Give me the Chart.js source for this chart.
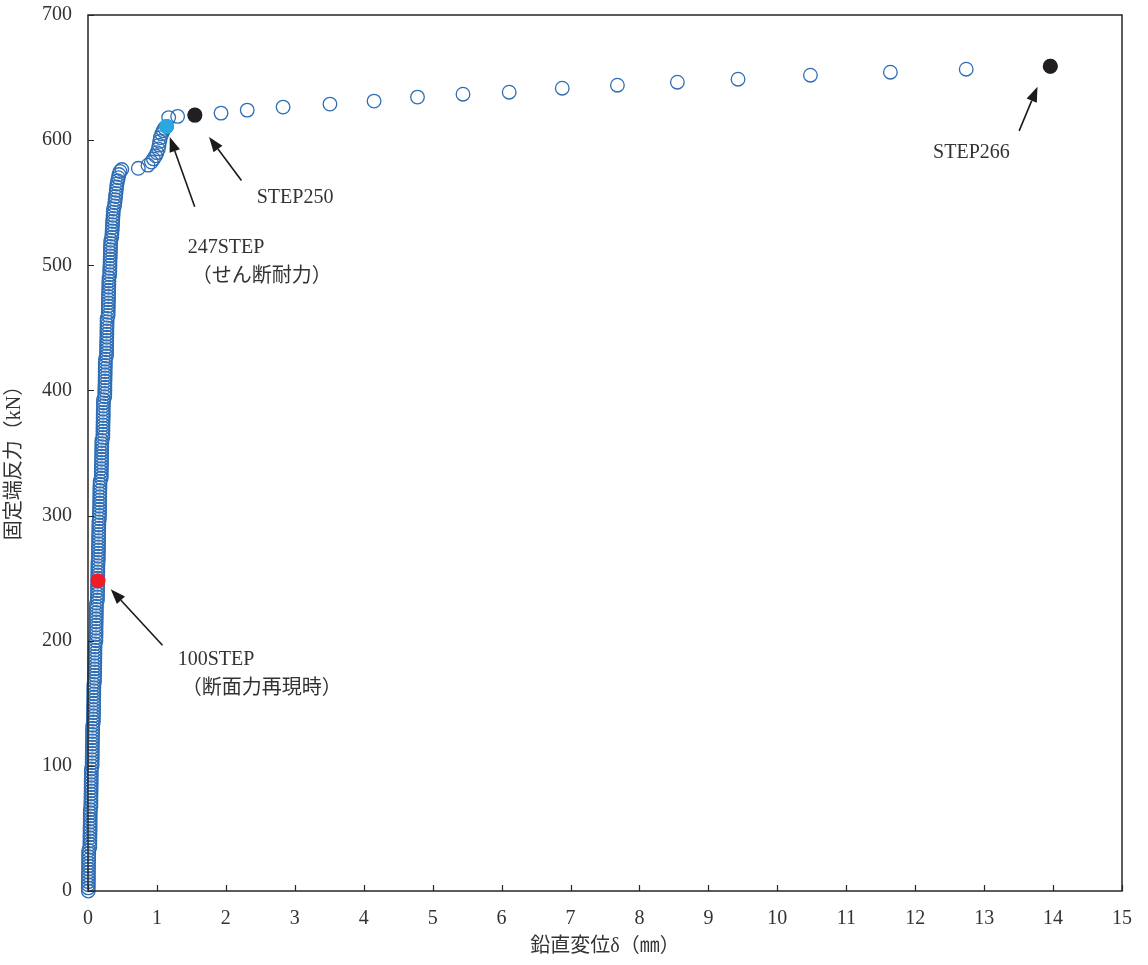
<!DOCTYPE html>
<html>
<head>
<meta charset="utf-8">
<script src="https://cdn.jsdelivr.net/npm/chart.js@4/dist/chart.umd.min.js"></script>
<style>
  html, body { margin: 0; padding: 0; background: #ffffff; }
  #wrap { width: 1148px; height: 965px; }
</style>
</head>
<body>
<div id="wrap"><canvas id="c" width="1148" height="965"></canvas></div>
<script>
// ---- Data ----
// Vertical displacement δ (mm) for every load step
const dispMm = [
  0.004,0.004,0.005,0.005,0.006,0.006,0.007,0.007,0.008,0.008,0.009,0.009,0.010,0.010,
  0.027,0.027,0.028,0.028,0.029,0.030,0.030,0.031,0.032,0.032,0.033,0.033,0.034,
  0.042,0.042,0.043,0.043,0.044,0.045,0.045,0.046,0.046,0.047,0.048,0.048,0.049,
  0.060,0.060,0.061,0.061,0.062,0.063,0.063,0.064,0.065,0.065,0.066,0.067,0.067,0.068,
  0.078,0.078,0.079,0.080,0.080,0.081,0.082,0.082,0.083,0.084,0.084,0.085,0.086,
  0.095,0.095,0.096,0.097,0.097,0.098,0.099,0.099,0.100,0.101,0.101,0.102,0.103,
  0.115,0.115,0.116,0.117,0.117,0.118,0.119,0.119,0.120,0.121,0.121,0.122,0.123,
  0.137,0.137,0.138,0.139,0.139,0.140,0.141,0.141,0.142,0.143,0.143,0.144,0.145,
  0.150,0.150,0.151,0.152,0.152,0.153,0.154,0.154,0.155,0.156,0.156,0.157,0.158,
  0.165,0.166,0.167,0.167,0.168,0.169,0.170,0.171,0.171,0.172,0.173,0.174,0.175,
  0.192,0.193,0.193,0.194,0.195,0.196,0.197,0.197,0.198,0.199,0.200,0.201,0.202,
  0.215,0.216,0.217,0.217,0.218,0.219,0.220,0.221,0.221,0.222,0.223,0.224,0.225,
  0.243,0.244,0.245,0.245,0.246,0.247,0.248,0.249,0.249,0.250,0.251,0.252,0.253,
  0.268,0.269,0.270,0.270,0.271,0.272,0.273,0.274,0.274,0.275,0.276,0.277,0.278,
  0.292,0.293,0.294,0.295,0.296,0.297,0.298,0.299,0.300,0.301,0.302,0.303,0.305,
  0.315,0.316,0.317,0.319,0.320,0.321,0.323,0.324,0.325,0.327,0.328,0.330,
  0.345,0.347,0.350,0.353,0.356,0.358,0.361,0.364,0.367,0.370,
  0.385,0.390,0.395,0.400,0.405,0.410,0.415,0.420,0.430,0.440,0.450,0.465,
  0.490,
  0.73,0.87,0.92,0.95,0.98,1.00,1.02,1.03,1.04,1.05,1.07,1.09,1.11,
  1.14,1.17,1.30,1.55,
  1.93,2.31,2.83,3.51,4.15,4.78,5.44,6.11,6.88,7.68,8.55,9.43,10.48,11.64,12.74,13.96
];
// Fixed-end reaction (kN) for every load step
const loadKN = [
  0,2.5,5,7.5,10,12.5,15,17.5,20,22.5,25,27.5,30,32.5,
  35,37.5,40,42.5,45,47.5,50,52.5,55,57.5,60,62.5,65,
  67.5,70,72.5,75,77.5,80,82.5,85,87.5,90,92.5,95,97.5,
  100,102.5,105,107.5,110,112.5,115,117.5,120,122.5,125,127.5,130,132.5,
  135,137.5,140,142.5,145,147.5,150,152.5,155,157.5,160,162.5,165,
  167.5,170,172.5,175,177.5,180,182.5,185,187.5,190,192.5,195,197.5,
  200,202.5,205,207.5,210,212.5,215,217.5,220,222.5,225,227.5,230,
  232.5,235,237.5,240,242.5,245,247.5,250,252.5,255,257.5,260,262.5,
  265,267.5,270,272.5,275,277.5,280,282.5,285,287.5,290,292.5,295,
  297.5,300,302.5,305,307.5,310,312.5,315,317.5,320,322.5,325,327.5,
  330,332.5,335,337.5,340,342.5,345,347.5,350,352.5,355,357.5,360,
  362.5,365,367.5,370,372.5,375,377.5,380,382.5,385,387.5,390,392.5,
  395,397.5,400,402.5,405,407.5,410,412.5,415,417.5,420,422.5,425,
  427.5,430,432.5,435,437.5,440,442.5,445,447.5,450,452.5,455,457.5,
  460,462.5,465,467.5,470,472.5,475,477.5,480,482.5,485,487.5,490,
  492.5,495,497.5,500,502.5,505,507.5,510,512.5,515,517.5,520,
  522.5,525,527.5,530,532.5,535,537.5,540,542.5,545,
  547.5,550,552.5,555,557.5,560,562.5,565,567.5,570,572.5,575,
  576.5,
  577.5,580,582.5,585,587.5,590,593,596,599,602,605,607.5,609.5,
  611,618,619,620,
  621.6,624,626.4,628.8,631.2,634.4,636.7,638.3,641.5,643.9,646.3,648.7,651.9,654.3,656.7,659.1
];
// Highlighted steps
const step100 = { x: 0.145, y: 248 };   // 100STEP (red)
const step247 = { x: 1.14,  y: 611 };   // 247STEP (light blue)
const stepBlackX = [1.55, 13.96];       // STEP250, STEP266
const stepBlackY = [620, 659.1];

// Axis ticks
const xTicks = [0,1,2,3,4,5,6,7,8,9,10,11,12,13,14,15];
const yTicks = [0,100,200,300,400,500,600,700];

// Annotations (data coordinates)
const arrowTails = [[1.080,196.4],[1.548,546.7],[2.226,567.7],[13.508,607.4]];
const arrowTips  = [[0.330,241.1],[1.186,602.6],[1.756,602.6],[13.774,642.6]];
const noteTexts  = ['100STEP','（断面力再現時）','247STEP','（せん断耐力）','STEP250','STEP266'];
const noteX      = [1.302, 1.36, 1.447, 1.505, 2.448, 12.26];
const noteY      = [184.6, 161.4, 513.7, 490.5, 553.6, 589.6];

// ---- Build chart ----
const FONT = "'Liberation Serif', 'Noto Sans CJK JP', serif";
const mainPts = dispMm.map((v, i) => ({ x: v, y: loadKN[i] }));
const blackPts = stepBlackX.map((v, i) => ({ x: v, y: stepBlackY[i] }));

const decor = {
  id: 'decor',
  afterDatasetsDraw(chart) {
    const { ctx, chartArea: a, scales: { x, y } } = chart;
    ctx.save();
    ctx.strokeStyle = '#262626';
    ctx.lineWidth = 1.5;
    ctx.strokeRect(a.left, a.top, a.right - a.left, a.bottom - a.top);
    ctx.lineWidth = 1.2;
    ctx.beginPath();
    xTicks.forEach(v => {
      const px = Math.round(x.getPixelForValue(v)) + 0.5;
      ctx.moveTo(px, a.bottom); ctx.lineTo(px, a.bottom - 6);
    });
    yTicks.forEach(v => {
      const py = Math.round(y.getPixelForValue(v)) + 0.5;
      ctx.moveTo(a.left, py); ctx.lineTo(a.left + 6, py);
    });
    ctx.stroke();

    // arrows
    ctx.strokeStyle = '#1a1a1a';
    ctx.fillStyle = '#1a1a1a';
    arrowTails.forEach((t, i) => {
      const x0 = x.getPixelForValue(t[0]), y0 = y.getPixelForValue(t[1]);
      const x1 = x.getPixelForValue(arrowTips[i][0]), y1 = y.getPixelForValue(arrowTips[i][1]);
      const ang = Math.atan2(y1 - y0, x1 - x0);
      const hl = 15, hw = 5.5;
      const bx = x1 - hl * Math.cos(ang), by = y1 - hl * Math.sin(ang);
      ctx.lineWidth = 1.6;
      ctx.beginPath(); ctx.moveTo(x0, y0); ctx.lineTo(bx, by); ctx.stroke();
      ctx.beginPath();
      ctx.moveTo(x1, y1);
      ctx.lineTo(bx + hw * Math.sin(ang), by - hw * Math.cos(ang));
      ctx.lineTo(bx - hw * Math.sin(ang), by + hw * Math.cos(ang));
      ctx.closePath(); ctx.fill();
    });

    // notes
    ctx.fillStyle = '#333333';
    ctx.textAlign = 'left';
    ctx.textBaseline = 'middle';
    ctx.font = '20px ' + FONT;
    noteTexts.forEach((s, i) => {
      ctx.fillText(s, x.getPixelForValue(noteX[i]), y.getPixelForValue(noteY[i]));
    });
    ctx.restore();
  }
};

new Chart(document.getElementById('c'), {
  type: 'scatter',
  data: {
    datasets: [
      { label: '100STEP', data: [step100], pointRadius: 7.5, pointBackgroundColor: '#ee1c25', pointBorderColor: '#ee1c25', pointBorderWidth: 0, order: 1, clip: false },
      { label: '247STEP', data: [step247], pointRadius: 7.5, pointBackgroundColor: '#29a9e1', pointBorderColor: '#29a9e1', pointBorderWidth: 0, order: 1, clip: false },
      { label: 'STEP250/266', data: blackPts, pointRadius: 7.5, pointBackgroundColor: '#231f20', pointBorderColor: '#231f20', pointBorderWidth: 0, order: 1, clip: false },
      { label: 'all', data: mainPts, pointRadius: 6.8, pointBackgroundColor: 'rgba(0,0,0,0)', pointBorderColor: '#2e6db4', pointBorderWidth: 1.3, order: 2, clip: false }
    ]
  },
  options: {
    responsive: false,
    animation: false,
    devicePixelRatio: 1,
    layout: { padding: { left: 0, top: 15, right: 26, bottom: 0 } },
    plugins: { legend: { display: false }, tooltip: { enabled: false } },
    scales: {
      x: {
        type: 'linear', min: 0, max: 15,
        afterBuildTicks: s => { s.ticks = xTicks.map(v => ({ value: v })); },
        afterFit: s => { s.height = 74; s.paddingLeft = 0; s.paddingRight = 0; },
        grid: { display: false, drawTicks: false },
        border: { display: false },
        ticks: { padding: 16, color: '#333333', font: { family: FONT, size: 20 } },
        title: { display: true, text: '鉛直変位δ（㎜）', color: '#333333', font: { family: FONT, size: 20 }, padding: { top: 0, bottom: 6 } }
      },
      y: {
        type: 'linear', min: 0, max: 700,
        afterBuildTicks: s => { s.ticks = yTicks.map(v => ({ value: v })); },
        afterFit: s => { s.width = 88; s.paddingTop = 0; s.paddingBottom = 0; },
        grid: { display: false, drawTicks: false },
        border: { display: false },
        ticks: { padding: 16, color: '#333333', font: { family: FONT, size: 20 } },
        title: { display: true, text: '固定端反力（kN）\u3000', color: '#333333', font: { family: FONT, size: 20 }, padding: { top: 3, bottom: 0 } }
      }
    }
  },
  plugins: [decor]
});
</script>
</body>
</html>
